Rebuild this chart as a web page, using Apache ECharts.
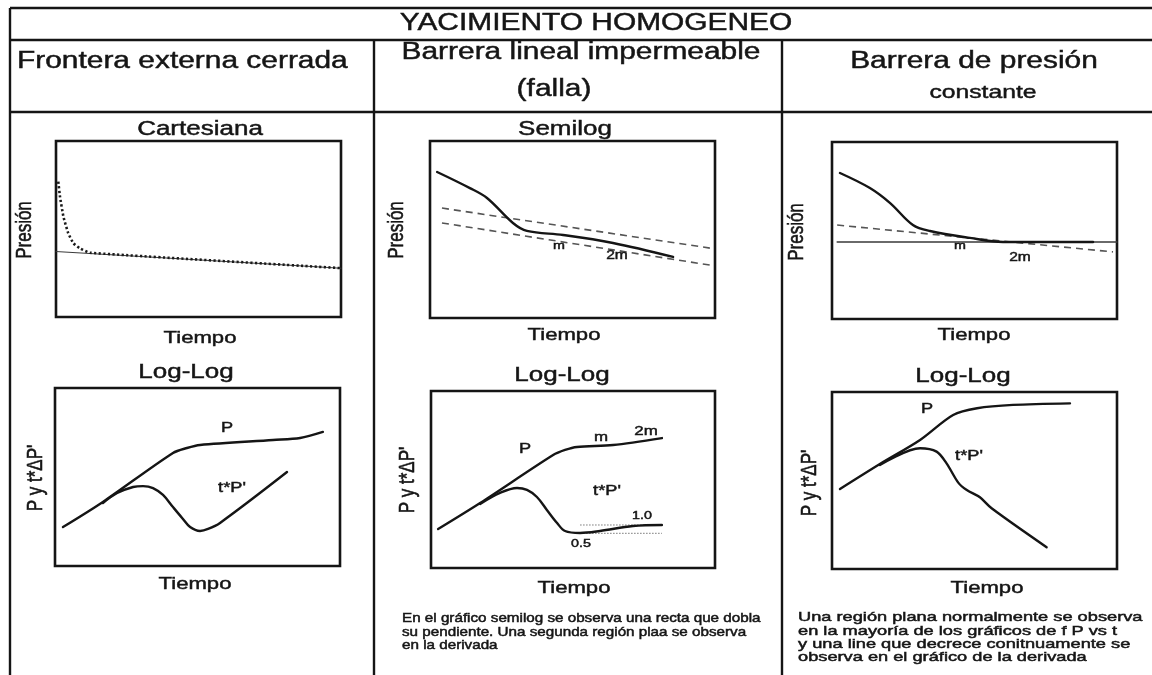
<!DOCTYPE html>
<html><head><meta charset="utf-8">
<script src="https://cdn.jsdelivr.net/npm/echarts@6/dist/echarts.min.js"></script>
<style>html,body{margin:0;padding:0;background:#fff}#c{width:1152px;height:675px}</style>
</head><body><div id="c"></div>
<script>
// ---- Data (plot units 0..100 on both axes) ----
// Plot 1: Cartesiana (closed outer boundary)
const p1Dotted = [[0.8,76.9],[1.4,68.4],[2.6,57.0],[4.3,47.6],[6.1,41.9],[8.4,39.0],[11.9,36.5],[99.6,27.8]];
const p1Line = [[0,37.2],[100,27.7]];
// Plot 2: Semilog (fault)
const p2Curve = [[2.5,82.5],[14,73.4],[20,67.8],[29.1,53.7],[34,49.2],[46.7,46.9],[64.2,42.4],[85.3,34.5]];
const p2DashM = [[4.2,62.1],[98.2,39.5]];
const p2Dash2M = [[4.2,53.7],[98.2,29.9]];
// Plot 3: Semilog (constant pressure)
const p3Curve = [[2.8,82.5],[13.3,74],[20.4,65.5],[28.4,53.1],[34.4,49.7],[48.4,45.8],[60,43.5],[72,43.5],[91.6,43.5]];
const p3Flat = [[1.8,43.5],[100,43.5]];
const p3Dash = [[1.8,53.1],[98.6,37.9]];
// Plot 4: Log-Log (closed boundary)
const p4P = [[2.8,21.9],[16.8,36],[41.4,63.5],[46.3,66.3],[50.9,68],[76.5,70.8],[86,71.9],[94,75.3]];
const p4Deriv = [[16.8,35.4],[21.8,41],[27.4,44.4],[30.9,44.9],[34.4,43.8],[37.9,39.9],[41.4,33.1],[44.6,27],[47.4,21.9],[50.9,19.7],[53.7,20.8],[57.9,24.2],[81.4,52.8]];
// Plot 5: Log-Log (fault)
const p5P = [[2.5,22],[17.3,36.7],[43,63.8],[47.2,66.7],[51.4,68.4],[64.1,69.5],[81.3,73.4]];
const p5Deriv = [[17.3,36.2],[24.3,42.4],[30.3,45.2],[33.8,44.1],[37.3,40.1],[40.8,32.8],[44.4,25.4],[47.2,20.9],[52.5,19.8],[59.5,20.9],[71.1,23.7],[81.3,24.3]];
const p5Ref10 = [[52.5,24.3],[81.3,24.3]];
const p5Ref05 = [[52.5,19.6],[81.3,19.6]];
// Plot 6: Log-Log (constant pressure)
const p6P = [[2.8,45.2],[16.8,59.3],[30.9,72.9],[42.5,87],[50.9,90.8],[63.5,92.7],[83.5,93.6]];
const p6Deriv = [[16.8,58.8],[30.9,68.2],[36.7,66.3],[40.2,59.7],[44.3,48.8],[47.3,44.6],[51.9,40.5],[56,34.3],[75.3,12.3]];

const FONT = '"Liberation Sans", Arial, sans-serif';
const INK = '#151515';

function T(x, y, text, size, o) {
  o = o || {};
  const al = o.align || 'center';
  return {type:'text', x:x, y:y, rotation:o.rot||0, scaleX:o.sx||1.3, scaleY:o.sy||1, silent:true, z:10,
    style:{text:text, x:0, y:0, font:(o.w||'normal')+' '+size+'px '+FONT, fill:o.fill||INK,
      stroke:o.fill||INK, lineWidth:(o.lw!=null?o.lw:0.45),
      textAlign:al, align:al, textVerticalAlign:'middle', verticalAlign:'middle'}};
}
function Rt(x, y, text, size) { return T(x, y, text, size, {rot:Math.PI/2, sx:1, sy:1.3}); }
function Ln(x1, y1, x2, y2, w) {
  return {type:'line', silent:true, z:5, shape:{x1:x1,y1:y1,x2:x2,y2:y2}, style:{stroke:INK, lineWidth:w||2}};
}

const grids = [
  {left:56, top:141, width:285, height:176},
  {left:430, top:141, width:285, height:177},
  {left:832, top:142, width:285, height:177},
  {left:55, top:388, width:285, height:178},
  {left:431, top:391, width:284, height:177},
  {left:832, top:392, width:285, height:177}
];

function S(gi, data, color, width, type, smooth, cap) {
  return {type:'line', xAxisIndex:gi, yAxisIndex:gi, data:data, showSymbol:false, symbol:'none',
    smooth:smooth||0, silent:true, animation:false, z:3,
    lineStyle:{color:color, width:width, type:type||'solid', cap:cap||'round', join:'round'}};
}

const DASH = [7,5];
const series = [
  S(0, p1Line, '#3a3a3a', 1),
  S(0, p1Dotted, '#1a1a1a', 2.6, [2.2,2.4], 0.12, 'butt'),
  S(1, p2DashM, '#555', 1.6, DASH, 0, 'butt'),
  S(1, p2Dash2M, '#555', 1.6, DASH, 0, 'butt'),
  S(1, p2Curve, INK, 2.4, 'solid', 0.35),
  S(2, p3Flat, '#3a3a3a', 1.3),
  S(2, p3Dash, '#555', 1.6, DASH, 0, 'butt'),
  S(2, p3Curve, INK, 2.4, 'solid', 0.35),
  S(3, p4P, INK, 2.4, 'solid', 0.3),
  S(3, p4Deriv, INK, 2.4, 'solid', 0.35),
  S(4, p5Ref10, '#777', 1, [1.5,1.5], 0, 'butt'),
  S(4, p5Ref05, '#777', 1, [1.5,1.5], 0, 'butt'),
  S(4, p5P, INK, 2.4, 'solid', 0.3),
  S(4, p5Deriv, INK, 2.4, 'solid', 0.35),
  S(5, p6P, INK, 2.4, 'solid', 0.3),
  S(5, p6Deriv, INK, 2.4, 'solid', 0.3)
];

const graphic = [
  // table rules
  Ln(10, 8, 1152, 8, 2.4), Ln(10, 40, 1152, 40, 2.4), Ln(10, 112, 1152, 112, 2.4),
  Ln(10, 8, 10, 675, 2.4), Ln(374, 40, 374, 675, 2.4), Ln(782, 40, 782, 675, 2.4),
  // headers
  T(596, 24, 'YACIMIENTO HOMOGENEO', 23),
  T(17, 62, 'Frontera externa cerrada', 23, {align:'left'}),
  T(581, 53, 'Barrera lineal impermeable', 23),
  T(554, 90, '(falla)', 23),
  T(974, 62, 'Barrera de presión', 23),
  T(983, 93, 'constante', 19),
  // plot titles
  T(200, 129, 'Cartesiana', 20),
  T(565, 129, 'Semilog', 20),
  T(186, 372, 'Log-Log', 20),
  T(562, 375, 'Log-Log', 20),
  T(963, 376, 'Log-Log', 20),
  // x names
  T(200, 338, 'Tiempo', 17), T(564, 335, 'Tiempo', 17), T(974, 335, 'Tiempo', 17),
  T(195, 584, 'Tiempo', 17), T(574, 588, 'Tiempo', 17), T(987, 588, 'Tiempo', 17),
  // y names
  Rt(25, 230, 'Presión', 17), Rt(397, 230, 'Presión', 17), Rt(797, 232, 'Presión', 17),
  Rt(36, 478, "P y t*ΔP'", 17), Rt(408, 480, "P y t*ΔP'", 17), Rt(810, 483, "P y t*ΔP'", 17),
  // curve labels
  T(559, 246, 'm', 11), T(617, 256, '2m', 12),
  T(960, 246, 'm', 11), T(1020, 258, '2m', 12),
  T(227, 428, 'P', 14), T(232, 488, "t*P'", 14),
  T(525, 449, 'P', 14), T(601, 437, 'm', 13), T(646, 431, '2m', 13),
  T(607, 491, "t*P'", 14), T(642, 516, '1.0', 11), T(581, 544, '0.5', 11),
  T(927, 409, 'P', 14), T(969, 456, "t*P'", 14),
  // notes
  T(402, 618, 'En el gráfico semilog se observa una recta que dobla', 13, {align:'left', sx:1.17, lw:0.5}),
  T(402, 632, 'su pendiente. Una segunda región plaa se observa', 13, {align:'left', sx:1.17, lw:0.5}),
  T(402, 645, 'en la derivada', 13, {align:'left', sx:1.17, lw:0.5}),
  T(798, 617, 'Una región plana normalmente se observa', 13.5, {align:'left', sx:1.35, lw:0.5}),
  T(798, 631, 'en la mayoría de los gráficos de f P vs t', 13.5, {align:'left', sx:1.35, lw:0.5}),
  T(798, 644, 'y una line que decrece conitnuamente se', 13.5, {align:'left', sx:1.35, lw:0.5}),
  T(798, 657, 'observa en el gráfico de la derivada', 13.5, {align:'left', sx:1.35, lw:0.5})
];

const option = {
  animation: false,
  backgroundColor: '#ffffff',
  grid: grids.map(function (g) {
    return Object.assign({show:true, borderColor:INK, borderWidth:2.6, backgroundColor:'transparent',
      containLabel:false, outerBoundsMode:'none'}, g);
  }),
  xAxis: grids.map(function (g, i) { return {type:'value', gridIndex:i, min:0, max:100, show:false}; }),
  yAxis: grids.map(function (g, i) { return {type:'value', gridIndex:i, min:0, max:100, show:false}; }),
  series: series,
  graphic: graphic
};

const chart = echarts.init(document.getElementById('c'), null, {renderer:'canvas'});
chart.setOption(option);
</script>
</body></html>
